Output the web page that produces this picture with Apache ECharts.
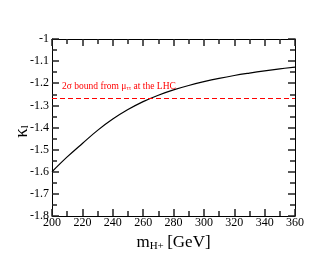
<!DOCTYPE html>
<html><head><meta charset="utf-8">
<script src="https://cdn.jsdelivr.net/npm/echarts@6/dist/echarts.min.js"></script>
<style>html,body{margin:0;padding:0;background:#fff}#c{width:332px;height:257px}</style>
</head><body><div id="c"></div>
<script>
const massGeV = [200,210,220,230,240,250,260,270,280,290,300,310,320,330,340,350,360];
const kappaL = [-1.600,-1.533,-1.472,-1.413,-1.362,-1.319,-1.283,-1.254,-1.230,-1.210,-1.193,-1.178,-1.165,-1.154,-1.144,-1.135,-1.127];
const boundValue = -1.27;
const xTicks = {min:200, max:360, interval:20};
const yTicks = {min:-1.8, max:-1, interval:0.1};

const serif = 'Liberation Serif';
const chart = echarts.init(document.getElementById('c'));
const fmtY = v => { const r = Math.round(v*10)/10; return (r===-1? '-1' : r.toFixed(1)); };
function mkAxis(kind, pos, showLabel) {
  const t = kind === 'x' ? xTicks : yTicks;
  const a = {type:'value', min:t.min, max:t.max, interval:t.interval, position:pos,
    splitLine:{show:false},
    axisTick:{show:true, inside:true, length:7, lineStyle:{color:'#222', width:1.5}},
    minorTick:{show:true, splitNumber:2, length:5, lineStyle:{color:'#222', width:1.5}},
    axisLine:{show:true, lineStyle:{color:'#000'}},
    axisLabel:{show:showLabel, fontFamily:serif, fontSize:12, color:'#000', margin: kind==='x'?1:3}};
  if (kind === 'y') a.axisLabel.formatter = fmtY;
  return a;
}
const xb = mkAxis('x','bottom',true);
xb.name = '{m|m}{s|H+} {m|[GeV]}'; xb.nameLocation = 'middle'; xb.nameGap = 17;
xb.nameTextStyle = {rich:{m:{fontFamily:serif, fontSize:17, color:'#000'}, s:{fontFamily:serif, fontSize:11, color:'#000', verticalAlign:'bottom', padding:[8,0,0,0]}}};
chart.setOption({
  animation:false,
  grid:{left:52, top:39, right:37, bottom:39},
  xAxis:[xb, mkAxis('x','top',false)],
  yAxis:[mkAxis('y','left',true), mkAxis('y','right',false)],
  series:[{
    type:'line', data:massGeV.map((m,i)=>[m,kappaL[i]]), smooth:0.4, showSymbol:false,
    lineStyle:{color:'#000', width:1.2},
    markLine:{silent:true, symbol:'none', label:{show:false},
      lineStyle:{color:'#ff0000', type:[5,3], width:1},
      data:[{yAxis:boundValue}]}
  }]
});
const p = chart.convertToPixel({xAxisIndex:0,yAxisIndex:0},[206,-1.215]);
const py = chart.convertToPixel({xAxisIndex:0,yAxisIndex:0},[200,-1.4]);
chart.setOption({graphic:[
  {type:'text', x:p[0]+1, y:p[1]-6, style:{
    text:'2σ bound from μ{s|ττ} at the LHC', fill:'#ff0000', font:'9.5px "Liberation Serif"',
    rich:{s:{fontSize:6, fill:'#ff0000', fontFamily:serif, padding:[5,0,0,0]}}}},
  {type:'text', x:22, y:py[1]+4, rotation:Math.PI/2, style:{
    text:'{k|κ}{s|l}', align:'center', verticalAlign:'middle',
    rich:{k:{fontFamily:serif, fontSize:19, fill:'#000'}, s:{fontFamily:serif, fontSize:11, fill:'#000', padding:[7,0,0,0]}}}}
]});
</script></body></html>
